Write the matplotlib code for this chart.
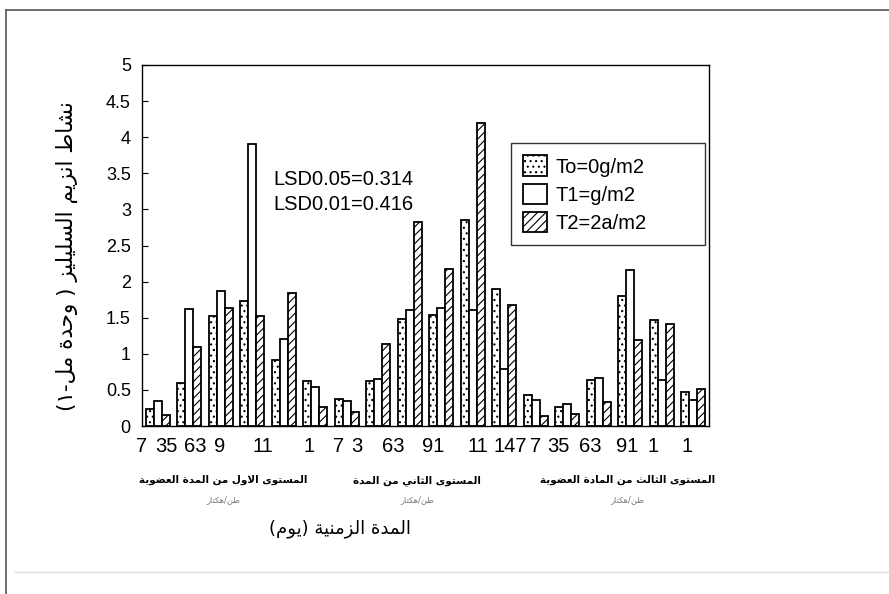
import numpy as np
import matplotlib
matplotlib.use('Agg')
import matplotlib.pyplot as plt
from matplotlib.lines import Line2D

# values (enzyme activity per group of days)
t0 = [0.23, 0.59, 1.53, 1.73, 0.92, 0.62, 0.38, 0.63, 1.48, 1.54, 2.85, 1.90, 0.43, 0.27, 0.64, 1.80, 1.47, 0.47]
t1 = [0.35, 1.62, 1.87, 3.90, 1.20, 0.54, 0.35, 0.65, 1.60, 1.63, 1.60, 0.79, 0.36, 0.30, 0.66, 2.16, 0.64, 0.36]
t2 = [0.15, 1.10, 1.64, 1.53, 1.84, 0.26, 0.20, 1.13, 2.83, 2.18, 4.19, 1.68, 0.14, 0.17, 0.33, 1.19, 1.41, 0.51]
series_names = ['To=0g/m2', 'T1=g/m2', 'T2=2a/m2']

day_labels = ['7', '35', '63', '9', '11', '1', '7', '3', '63', '91', '11', '147', '7', '35', '63', '91', '1', '1']
day_pos = [-0.50, 0.29, 1.19, 1.98, 3.35, 4.81, 5.73, 6.32, 7.48, 8.75, 10.17, 11.20, 11.98, 12.71, 13.73, 14.90, 15.73, 16.80]

level_labels = ['المستوى الاول من المدة العضوية', 'المستوى الثاني من المدة', 'المستوى الثالث من المادة العضوية']
level_sub = ['طن/هكتار', 'طن/هكتار', 'طن/هكتار']
level_pos = [2.08, 8.24, 14.9]

ylabel = 'نشاط انزيم السليليز ( وحدة مل-١)'
xlabel = 'المدة الزمنية (يوم)'
lsd_text = 'LSD0.05=0.314\nLSD0.01=0.416'

# minimal arabic shaping: matplotlib has no bidi / joining support
DUAL = {'ب': 0xFE8F, 'ت': 0xFE95, 'ث': 0xFE99, 'ج': 0xFE9D, 'ح': 0xFEA1, 'خ': 0xFEA5,
        'س': 0xFEB1, 'ش': 0xFEB5, 'ص': 0xFEB9, 'ض': 0xFEBD, 'ط': 0xFEC1, 'ظ': 0xFEC5,
        'ع': 0xFEC9, 'غ': 0xFECD, 'ف': 0xFED1, 'ق': 0xFED5, 'ك': 0xFED9, 'ل': 0xFEDD,
        'م': 0xFEE1, 'ن': 0xFEE5, 'ه': 0xFEE9, 'ي': 0xFEF1}
RIGHT = {'ا': 0xFE8D, 'أ': 0xFE83, 'إ': 0xFE87, 'آ': 0xFE81, 'ة': 0xFE93, 'د': 0xFEA9,
         'ذ': 0xFEAB, 'ر': 0xFEAD, 'ز': 0xFEAF, 'و': 0xFEED, 'ى': 0xFEEF}
LAMALEF = {'ا': 0xFEFB, 'أ': 0xFEF7, 'إ': 0xFEF9, 'آ': 0xFEF5}
MIRROR = {'(': ')', ')': '('}


def ar(s):
    out = []
    i = 0
    n = len(s)
    while i < n:
        c = s[i]
        prev = s[i - 1] if i > 0 else ''
        jp = prev in DUAL
        if c == 'ل' and i + 1 < n and s[i + 1] in LAMALEF:
            out.append(chr(LAMALEF[s[i + 1]] + (1 if jp else 0)))
            i += 2
            continue
        nxt = s[i + 1] if i + 1 < n else ''
        if c in DUAL:
            jn = nxt in DUAL or nxt in RIGHT
            k = 3 if (jp and jn) else 1 if jp else 2 if jn else 0
            out.append(chr(DUAL[c] + k))
        elif c in RIGHT:
            out.append(chr(RIGHT[c] + (1 if jp else 0)))
        else:
            out.append(MIRROR.get(c, c))
        i += 1
    return ''.join(reversed(out))


plt.rcParams['font.family'] = ['Liberation Sans', 'DejaVu Sans']
plt.rcParams['hatch.linewidth'] = 0.8

fig = plt.figure(figsize=(8.89, 5.94), dpi=100)
ax = fig.add_axes([0.1597, 0.2828, 0.6378, 0.6078])

x = np.arange(len(t0))
w = 0.254
ax.bar(x - w, t0, w, color='white', edgecolor='black', linewidth=1.3, hatch='...', label=series_names[0])
ax.bar(x, t1, w, color='white', edgecolor='black', linewidth=1.3, label=series_names[1])
ax.bar(x + w, t2, w, color='white', edgecolor='black', linewidth=1.3, hatch='////', label=series_names[2])

ax.set_xlim(-0.5, 17.5)
ax.set_ylim(0, 5)
ax.set_yticks(np.arange(0, 5.01, 0.5))
ax.set_yticklabels(['%g' % v for v in np.arange(0, 5.01, 0.5)], fontsize=13)
ax.tick_params(axis='y', direction='in', length=4, pad=8)
ax.set_xticks(day_pos, day_labels, fontsize=14.5)
ax.tick_params(axis='x', length=0, pad=8)
for s in ax.spines.values():
    s.set_linewidth(1.0)

ax.text(0.231, 0.648, lsd_text, transform=ax.transAxes, fontsize=14.5, linespacing=1.45, va='center')

ax.set_ylabel(ar(ylabel), fontsize=15.5, family='DejaVu Sans')
ax.yaxis.set_label_coords(-0.113, 0.47)
ax.set_xlabel(ar(xlabel), fontsize=13, family='DejaVu Sans')
ax.xaxis.set_label_coords(0.349, -0.26)

trans = ax.get_xaxis_transform()
for lbl, sub, p in zip(level_labels, level_sub, level_pos):
    ax.text(p, -0.15, ar(lbl), transform=trans, ha='center', va='center', fontsize=7.5,
            family='DejaVu Sans', fontweight='bold')
    ax.text(p, -0.205, ar(sub), transform=trans, ha='center', va='center', fontsize=6,
            family='DejaVu Sans', color='#777777')

ax.legend(loc='upper left', bbox_to_anchor=(0.651, 0.52, 0.342, 0.263), mode='expand',
          fontsize=14.5, frameon=True, fancybox=False, edgecolor='black',
          handlelength=1.2, handleheight=1.2, labelspacing=0.35, borderpad=0.6,
          handletextpad=0.4, borderaxespad=0)

# scan border
fig.add_artist(Line2D([0.007, 1.0], [0.983, 0.983], color='#555555', linewidth=1.2))
fig.add_artist(Line2D([0.007, 0.007], [0.0, 0.983], color='#555555', linewidth=1.2))
fig.add_artist(Line2D([0.017, 1.0], [0.037, 0.037], color='#dddddd', linewidth=1.0))

fig.savefig('out.png', dpi=100)
